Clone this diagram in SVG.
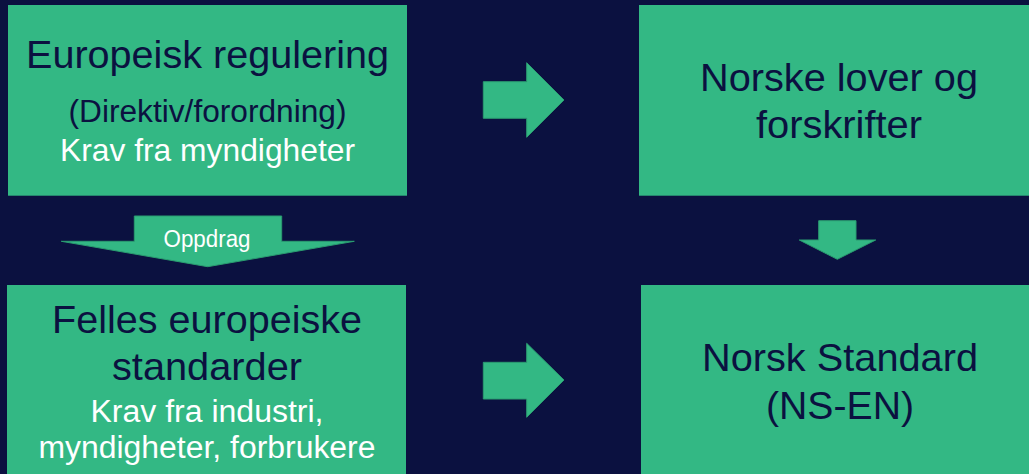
<svg xmlns="http://www.w3.org/2000/svg" width="1029" height="474" viewBox="0 0 1029 474">
<style>
.box{fill:#33b884;}
.arr{fill:#33b884;stroke:#2a9c70;stroke-width:1;}
text{font-family:"Liberation Sans",Arial,sans-serif;text-anchor:middle;}
.dk{fill:#0b1140;}
.wh{fill:#ffffff;}
</style>
<rect width="1029" height="474" fill="#0b1140"/>
<g id="node-eu-regulering">
<rect class="box" x="8" y="5" width="399" height="190.7"/>
<text class="dk" x="207.5" y="67.5" font-size="39.5" textLength="363" lengthAdjust="spacingAndGlyphs">Europeisk regulering</text>
<text class="dk" x="207.5" y="122" font-size="31" textLength="278" lengthAdjust="spacingAndGlyphs">(Direktiv/forordning)</text>
<text class="wh" x="207.5" y="161" font-size="31.5" textLength="295" lengthAdjust="spacingAndGlyphs">Krav fra myndigheter</text>
</g>
<g id="node-norske-lover">
<rect class="box" x="639" y="5" width="400" height="190.7"/>
<text class="dk" x="839" y="90.5" font-size="39.5" textLength="278" lengthAdjust="spacingAndGlyphs">Norske lover og</text>
<text class="dk" x="839" y="138.3" font-size="39.5" textLength="166" lengthAdjust="spacingAndGlyphs">forskrifter</text>
</g>
<g id="node-felles-standarder">
<rect class="box" x="7" y="285" width="399" height="199"/>
<text class="dk" x="207" y="332.5" font-size="39.5" textLength="310" lengthAdjust="spacingAndGlyphs">Felles europeiske</text>
<text class="dk" x="207" y="380" font-size="39.5" textLength="190" lengthAdjust="spacingAndGlyphs">standarder</text>
<text class="wh" x="207" y="421.5" font-size="31" textLength="233" lengthAdjust="spacingAndGlyphs">Krav fra industri,</text>
<text class="wh" x="207" y="458" font-size="31" textLength="337" lengthAdjust="spacingAndGlyphs">myndigheter, forbrukere</text>
</g>
<g id="node-norsk-standard">
<rect class="box" x="641" y="285" width="400" height="199"/>
<text class="dk" x="840" y="370.5" font-size="39.5" textLength="276" lengthAdjust="spacingAndGlyphs">Norsk Standard</text>
<text class="dk" x="840" y="419.3" font-size="39.5" textLength="148" lengthAdjust="spacingAndGlyphs">(NS-EN)</text>
</g>
<g id="connectors">
<polygon class="arr" points="483.3,81.7 526.7,81.7 526.7,62.7 564,100 526.7,137.3 526.7,118.3 483.3,118.3"/>
<polygon class="arr" points="483.3,362.3 526.7,362.3 526.7,343.3 564,380 526.7,417.3 526.7,399 483.3,399"/>
<polygon class="arr" points="818.7,220.7 856,220.7 856,240 875.7,240 837.3,259.3 799.3,240 818.7,240"/>
<polygon class="arr" points="134.3,216 281.7,216 281.7,241.3 354.3,241.3 207.7,266.7 61.3,241.3 134.3,241.3"/>
<text class="wh" x="207" y="246.5" font-size="23" textLength="87" lengthAdjust="spacingAndGlyphs">Oppdrag</text>
</g>
</svg>
